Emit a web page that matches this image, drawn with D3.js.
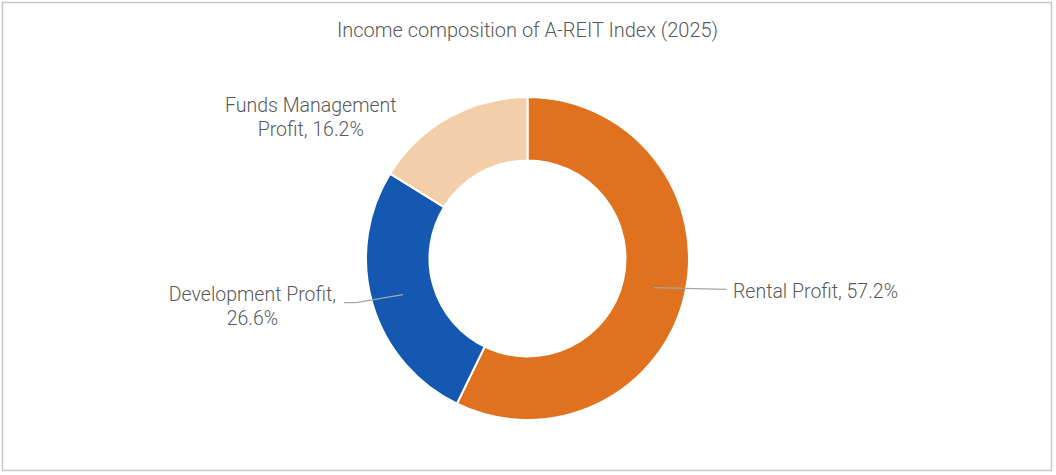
<!DOCTYPE html>
<html>
<head>
<meta charset="utf-8">
<script src="https://cdn.jsdelivr.net/npm/d3@7"></script>
<style>
  html, body { margin: 0; padding: 0; background: #ffffff; }
  svg { display: block; }
  text { font-family: Roboto, "Noto Sans", sans-serif; fill: #595959; font-weight: 300; }
</style>
</head>
<body>
<svg id="chart" width="1056" height="475"></svg>
<script>
// ---- Data ----
const title = "Income composition of A-REIT Index (2025)";
const categories = ["Rental Profit", "Development Profit", "Funds Management Profit"];
const values = [57.2, 26.6, 16.2];
const labelLines = [
  ["Rental Profit, 57.2%"],
  ["Development Profit,", "26.6%"],
  ["Funds Management", "Profit, 16.2%"]
];
const colors = ["#DF711F", "#1558B1", "#F2CFA9"];

// ---- Layout ----
const W = 1056, H = 475;
const cx = 527.5, cy = 258.5;
const outerR = 161.5, innerR = 98;

const svg = d3.select("#chart");

svg.append("rect")
  .attr("x", 2.5).attr("y", 2.5)
  .attr("width", 1049).attr("height", 468)
  .attr("fill", "#ffffff")
  .attr("stroke", "#c8c8c8")
  .attr("stroke-width", 1.5);

svg.append("text")
  .attr("x", cx).attr("y", 37)
  .attr("text-anchor", "middle")
  .attr("font-size", "20px")
  .text(title);

const data = categories.map((c, i) => ({ cat: c, value: values[i], lines: labelLines[i], color: colors[i] }));

const pie = d3.pie().sort(null).value(d => d.value);
const arc = d3.arc().innerRadius(innerR).outerRadius(outerR);
const arcs = pie(data);

const g = svg.append("g").attr("transform", `translate(${cx},${cy})`);

g.selectAll("path.slice")
  .data(arcs)
  .join("path")
  .attr("class", "slice")
  .attr("d", arc)
  .attr("fill", d => d.data.color)
  .attr("stroke", "#ffffff")
  .attr("stroke-width", 2);

// label placement (relative to centroid)
const labelCfg = [
  { line: [[72.5, 1.8]], text: [79, 10], anchor: "start" },
  { line: [[-47, 8], [-59, 8]], text: [-150.5, 6], anchor: "middle" },
  { line: null, text: [-153.5, -33.5], anchor: "middle" }
];

arcs.forEach((a, i) => {
  const [x0, y0] = arc.centroid(a);
  const cfg = labelCfg[i];
  if (cfg.line) {
    const pts = [[x0, y0]].concat(cfg.line.map(p => [x0 + p[0], y0 + p[1]]));
    g.append("path")
      .attr("d", d3.line()(pts))
      .attr("fill", "none")
      .attr("stroke", "#a6a6a6")
      .attr("stroke-width", 1.3);
  }
  const t = g.append("text")
    .attr("x", x0 + cfg.text[0])
    .attr("y", y0 + cfg.text[1])
    .attr("text-anchor", cfg.anchor)
    .attr("font-size", "19.5px");
  a.data.lines.forEach((ln, j) => {
    t.append("tspan")
      .attr("x", x0 + cfg.text[0])
      .attr("dy", j === 0 ? 0 : 24.5)
      .text(ln);
  });
});
</script>
</body>
</html>
